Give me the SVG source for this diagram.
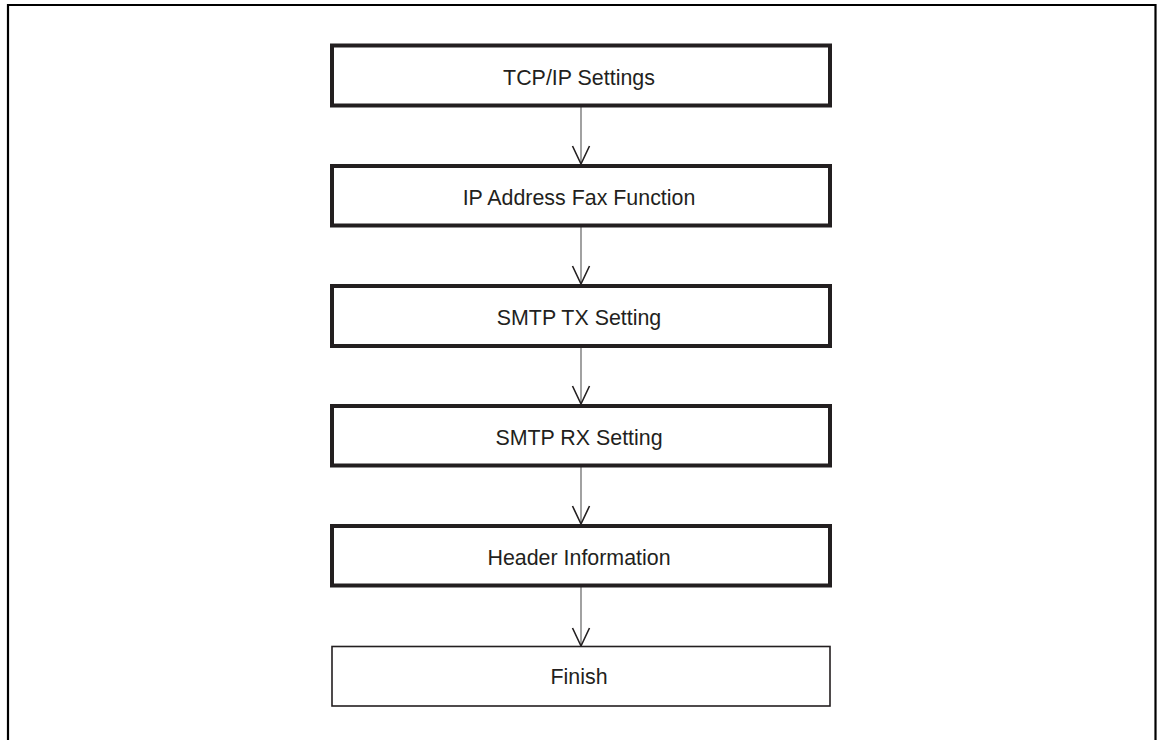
<svg xmlns="http://www.w3.org/2000/svg" width="1161" height="740" viewBox="0 0 1161 740">
<style>
.frame{fill:none;stroke:#000;stroke-width:2.2}
.box{fill:#fff;stroke:#231f20;stroke-width:4}
.fin{fill:#fff;stroke:#231f20;stroke-width:1.6}
.lbl{font-family:"Liberation Sans",Arial,sans-serif;font-size:21.4px;fill:#231f20;text-anchor:middle}
.conn{stroke:#555;stroke-width:1.1;fill:none}
.head{stroke:#231f20;stroke-width:1.6;fill:none}
</style>
<rect width="1161" height="740" fill="#fff"/>
<path class="frame" d="M8,740 V5 H1155.5 V740"/>
<g id="connectors">
<g><line class="conn" x1="581" y1="107" x2="581" y2="164"/><path class="head" d="M572.5,146 L581,164 L589.5,146"/></g>
<g><line class="conn" x1="581" y1="227" x2="581" y2="284"/><path class="head" d="M572.5,266 L581,284 L589.5,266"/></g>
<g><line class="conn" x1="581" y1="347" x2="581" y2="404"/><path class="head" d="M572.5,386 L581,404 L589.5,386"/></g>
<g><line class="conn" x1="581" y1="467" x2="581" y2="524"/><path class="head" d="M572.5,506 L581,524 L589.5,506"/></g>
<g><line class="conn" x1="581" y1="587" x2="581" y2="646"/><path class="head" d="M572.5,628 L581,646 L589.5,628"/></g>
</g>
<g id="n1"><rect class="box" x="332" y="45.5" width="498" height="60"/><text class="lbl" x="579" y="85">TCP/IP Settings</text></g>
<g id="n2"><rect class="box" x="332" y="166" width="498" height="59.5"/><text class="lbl" x="579" y="205">IP Address Fax Function</text></g>
<g id="n3"><rect class="box" x="332" y="286" width="498" height="60"/><text class="lbl" x="579" y="325">SMTP TX Setting</text></g>
<g id="n4"><rect class="box" x="332" y="406" width="498" height="59.5"/><text class="lbl" x="579" y="445">SMTP RX Setting</text></g>
<g id="n5"><rect class="box" x="332" y="526" width="498" height="59.5"/><text class="lbl" x="579" y="565">Header Information</text></g>
<g id="n6"><rect class="fin" x="332" y="646.5" width="498" height="59.5"/><text class="lbl" x="579" y="683.5">Finish</text></g>
</svg>
